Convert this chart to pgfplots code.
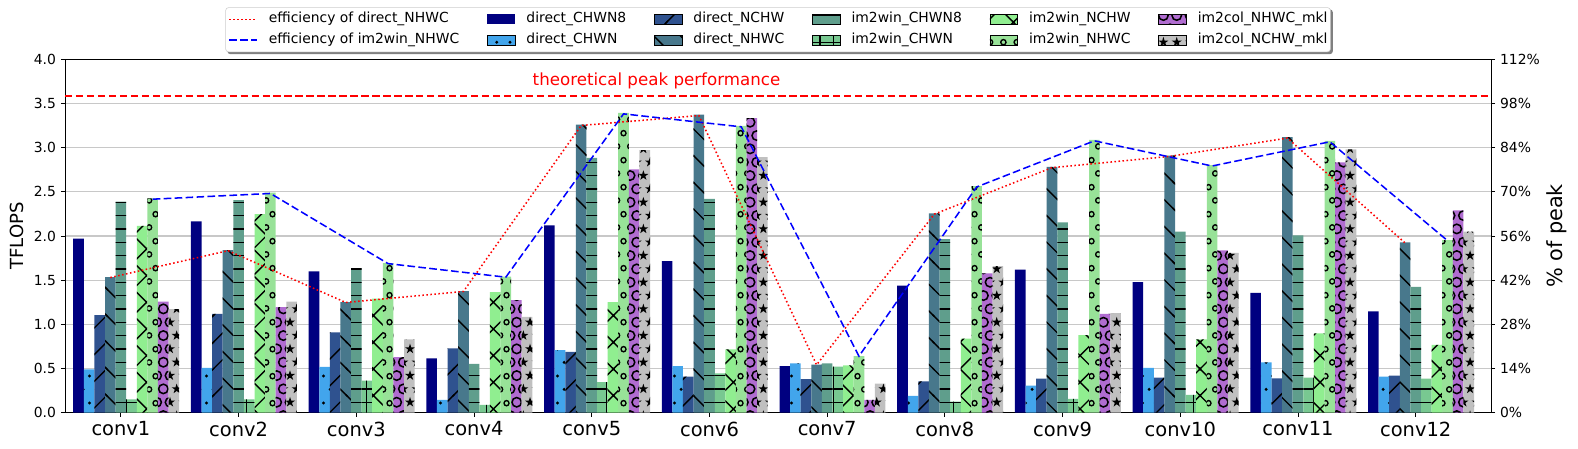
\documentclass[border=0pt]{standalone}
\usepackage{fontspec}
\setmainfont{DejaVu Sans}
\usepackage{pgfplots}
\pgfplotsset{compat=1.18}
\usepackage{pgfplotstable}
\usetikzlibrary{patterns}

\pgfdeclarelayer{bg}
\pgfsetlayers{bg,main}

\definecolor{cA}{RGB}{0,0,128}
\definecolor{cB}{RGB}{66,165,236}
\definecolor{cC}{RGB}{47,82,143}
\definecolor{cD}{RGB}{72,120,140}
\definecolor{cE}{RGB}{95,158,140}
\definecolor{cF}{RGB}{120,200,145}
\definecolor{cG}{RGB}{144,238,144}
\definecolor{cH}{RGB}{152,226,152}
\definecolor{cI}{RGB}{176,108,208}
\definecolor{cJ}{RGB}{192,192,192}
\definecolor{gridc}{RGB}{200,200,200}
\definecolor{legc}{RGB}{204,204,204}

% hatch patterns (matplotlib-like)
\pgfdeclarepatternformonly{hdots}{\pgfqpoint{0pt}{0pt}}{\pgfqpoint{9.6pt}{19.2pt}}{\pgfqpoint{9.6pt}{19.2pt}}{%
 \pgfpathcircle{\pgfqpoint{2.4pt}{4.8pt}}{1.2pt}%
 \pgfpathcircle{\pgfqpoint{7.2pt}{14.4pt}}{1.2pt}%
 \pgfusepath{fill}}
\pgfdeclarepatternformonly{hslash}{\pgfqpoint{-1pt}{-1pt}}{\pgfqpoint{20.2pt}{20.2pt}}{\pgfqpoint{19.2pt}{19.2pt}}{%
 \pgfsetlinewidth{1pt}%
 \pgfpathmoveto{\pgfqpoint{-1pt}{-1pt}}\pgfpathlineto{\pgfqpoint{20.2pt}{20.2pt}}\pgfusepath{stroke}}
\pgfdeclarepatternformonly{hbslash}{\pgfqpoint{-1pt}{-1pt}}{\pgfqpoint{20.2pt}{20.2pt}}{\pgfqpoint{19.2pt}{19.2pt}}{%
 \pgfsetlinewidth{1pt}%
 \pgfpathmoveto{\pgfqpoint{-1pt}{20.2pt}}\pgfpathlineto{\pgfqpoint{20.2pt}{-1pt}}\pgfusepath{stroke}}
\pgfdeclarepatternformonly{hhline}{\pgfqpoint{-0.5pt}{0pt}}{\pgfqpoint{10.1pt}{9.6pt}}{\pgfqpoint{9.6pt}{9.6pt}}{%
 \pgfsetlinewidth{1pt}%
 \pgfpathmoveto{\pgfqpoint{-0.5pt}{4.8pt}}\pgfpathlineto{\pgfqpoint{10.1pt}{4.8pt}}\pgfusepath{stroke}}
\pgfdeclarepatternformonly{hplus}{\pgfqpoint{-0.5pt}{-0.5pt}}{\pgfqpoint{10.1pt}{10.1pt}}{\pgfqpoint{9.6pt}{9.6pt}}{%
 \pgfsetlinewidth{1pt}%
 \pgfpathmoveto{\pgfqpoint{-0.5pt}{4.8pt}}\pgfpathlineto{\pgfqpoint{10.1pt}{4.8pt}}%
 \pgfpathmoveto{\pgfqpoint{4.8pt}{-0.5pt}}\pgfpathlineto{\pgfqpoint{4.8pt}{10.1pt}}\pgfusepath{stroke}}
\pgfdeclarepatternformonly{hcross}{\pgfqpoint{-1pt}{-1pt}}{\pgfqpoint{20.2pt}{20.2pt}}{\pgfqpoint{19.2pt}{19.2pt}}{%
 \pgfsetlinewidth{1pt}%
 \pgfpathmoveto{\pgfqpoint{-1pt}{-1pt}}\pgfpathlineto{\pgfqpoint{20.2pt}{20.2pt}}%
 \pgfpathmoveto{\pgfqpoint{-1pt}{20.2pt}}\pgfpathlineto{\pgfqpoint{20.2pt}{-1pt}}\pgfusepath{stroke}}
\pgfdeclarepatternformonly{hsmallo}{\pgfqpoint{0pt}{0pt}}{\pgfqpoint{9.6pt}{19.2pt}}{\pgfqpoint{9.6pt}{19.2pt}}{%
 \pgfsetlinewidth{1pt}%
 \pgfpathcircle{\pgfqpoint{2.4pt}{4.8pt}}{1.9pt}%
 \pgfpathcircle{\pgfqpoint{7.2pt}{14.4pt}}{1.9pt}%
 \pgfusepath{stroke}}
\pgfdeclarepatternformonly{hbigo}{\pgfqpoint{-4.5pt}{-4.5pt}}{\pgfqpoint{14.1pt}{23.7pt}}{\pgfqpoint{9.6pt}{19.2pt}}{%
 \pgfsetlinewidth{1.1pt}%
 \pgfpathcircle{\pgfqpoint{2.4pt}{4.8pt}}{3.4pt}%
 \pgfpathcircle{\pgfqpoint{7.2pt}{14.4pt}}{3.4pt}%
 \pgfusepath{stroke}}
\newcommand\starat[2]{%
 \pgfpathmoveto{\pgfpointadd{\pgfqpoint{#1}{#2}}{\pgfqpoint{0pt}{3.8pt}}}%
 \pgfpathlineto{\pgfpointadd{\pgfqpoint{#1}{#2}}{\pgfqpoint{-0.852pt}{1.173pt}}}%
 \pgfpathlineto{\pgfpointadd{\pgfqpoint{#1}{#2}}{\pgfqpoint{-3.614pt}{1.174pt}}}%
 \pgfpathlineto{\pgfpointadd{\pgfqpoint{#1}{#2}}{\pgfqpoint{-1.378pt}{-0.448pt}}}%
 \pgfpathlineto{\pgfpointadd{\pgfqpoint{#1}{#2}}{\pgfqpoint{-2.234pt}{-3.074pt}}}%
 \pgfpathlineto{\pgfpointadd{\pgfqpoint{#1}{#2}}{\pgfqpoint{0pt}{-1.45pt}}}%
 \pgfpathlineto{\pgfpointadd{\pgfqpoint{#1}{#2}}{\pgfqpoint{2.234pt}{-3.074pt}}}%
 \pgfpathlineto{\pgfpointadd{\pgfqpoint{#1}{#2}}{\pgfqpoint{1.378pt}{-0.448pt}}}%
 \pgfpathlineto{\pgfpointadd{\pgfqpoint{#1}{#2}}{\pgfqpoint{3.614pt}{1.174pt}}}%
 \pgfpathlineto{\pgfpointadd{\pgfqpoint{#1}{#2}}{\pgfqpoint{0.852pt}{1.173pt}}}%
 \pgfpathclose}
\pgfdeclarepatternformonly{hstar}{\pgfqpoint{-4.5pt}{-4.5pt}}{\pgfqpoint{14.1pt}{23.7pt}}{\pgfqpoint{9.6pt}{19.2pt}}{%
 \starat{2.4pt}{4.8pt}\starat{7.2pt}{14.4pt}\pgfusepath{fill}}

\pgfplotsset{
 /pgf/number format/assume math mode=true,
 patchleg/.style={legend image code/.code={\path[sharp corners, ##1, draw=none] (0pt,-3.6pt) rectangle (20pt,3.6pt);}},
 lineleg/.style={legend image code/.code={\draw[sharp corners, ##1] (0pt,0pt) -- (20pt,0pt);}},
}

\pgfplotstableread{
x a b c d e f g h i j
0  1.970 0.490 1.105 1.535 2.390 0.150 2.115 2.425 1.256 1.173
1  2.165 0.506 1.117 1.840 2.406 0.150 2.248 2.490 1.196 1.256
2  1.600 0.517 0.909 1.252 1.637 0.362 1.290 1.693 0.630 0.830
3  0.615 0.144 0.728 1.377 0.551 0.087 1.365 1.539 1.275 1.083
4  2.120 0.709 0.687 3.262 2.885 0.347 1.252 3.394 2.753 2.972
5  1.716 0.528 0.407 3.375 2.421 0.445 0.717 3.247 3.334 2.893
6  0.528 0.559 0.381 0.543 0.559 0.520 0.536 0.641 0.144 0.328
7  1.437 0.189 0.355 2.255 1.965 0.125 0.837 2.564 1.577 1.660
8  1.618 0.306 0.385 2.783 2.154 0.155 0.879 3.088 1.117 1.128
9  1.478 0.506 0.396 2.911 2.048 0.200 0.830 2.802 1.837 1.810
10 1.357 0.570 0.389 3.119 2.006 0.396 0.898 3.077 2.832 2.980
11 1.147 0.407 0.419 1.927 1.425 0.385 0.766 1.954 2.290 2.048
}\perf

\pgfplotstableread{
xr er xb eb
-0.09 42.83 0.27 67.66
0.91 51.34 1.27 69.48
1.91 34.93 2.27 47.24
2.91 38.42 3.27 42.94
3.91 91.02 4.27 94.70
4.91 94.17 5.27 90.60
5.91 15.15 6.27 17.89
6.91 62.92 7.27 71.54
7.91 77.65 8.27 86.16
8.91 81.22 9.27 78.18
9.91 87.03 10.27 85.85
10.91 53.77 11.27 54.52
}\eff

\pgfplotstableread{
x y
-0.475 3.584
11.64 3.584
}\peak

\begin{document}
\begin{tikzpicture}
\begin{axis}[
 name=ax,
 scale only axis, width=1026.7pt, height=254.4pt,
 xmin=-0.475, xmax=11.64, ymin=0, ymax=4,
 enlargelimits=false,
 bar width=0.09,
 xtick={0,...,11},
 xticklabels={conv1,conv2,conv3,conv4,conv5,conv6,conv7,conv8,conv9,conv10,conv11,conv12},
 ytick={0,0.5,...,4},
 yticklabel style={font=\fontsize{10}{12}\selectfont, /pgf/number format/fixed, /pgf/number format/fixed zerofill, /pgf/number format/precision=1},
 ytick pos=left, xtick pos=bottom,
 tick align=outside, major tick length=3pt,
 tick style={black, line width=0.6pt},
 axis line style={black, line width=0.7pt},
 ymajorgrids, grid style={gridc, line width=0.8pt},
 xticklabel style={font=\fontsize{14}{16}\selectfont},
 ylabel={TFLOPS},
 every axis y label/.style={at={(axis description cs:0,0.5)}, xshift=-34.9pt, rotate=90, anchor=center, font=\fontsize{13}{15}\selectfont},
]
\addplot[ybar, bar shift=-0.36, fill=cA, draw=none, forget plot] table[x=x,y=a]{\perf};
\addplot[ybar, bar shift=-0.27, fill=cB, draw=none, forget plot, postaction={pattern=hdots, pattern color=black}] table[x=x,y=b]{\perf};
\addplot[ybar, bar shift=-0.18, fill=cC, draw=none, forget plot, postaction={pattern=hslash, pattern color=black}] table[x=x,y=c]{\perf};
\addplot[ybar, bar shift=-0.09, fill=cD, draw=none, forget plot, postaction={pattern=hbslash, pattern color=black}] table[x=x,y=d]{\perf};
\addplot[ybar, bar shift=0, fill=cE, draw=none, forget plot, postaction={pattern=hhline, pattern color=black}] table[x=x,y=e]{\perf};
\addplot[ybar, bar shift=0.09, fill=cF, draw=none, forget plot, postaction={pattern=hplus, pattern color=black}] table[x=x,y=f]{\perf};
\addplot[ybar, bar shift=0.18, fill=cG, draw=none, forget plot, postaction={pattern=hcross, pattern color=black}] table[x=x,y=g]{\perf};
\addplot[ybar, bar shift=0.27, fill=cH, draw=none, forget plot, postaction={pattern=hsmallo, pattern color=black}] table[x=x,y=h]{\perf};
\addplot[ybar, bar shift=0.36, fill=cI, draw=none, forget plot, postaction={pattern=hbigo, pattern color=black}] table[x=x,y=i]{\perf};
\addplot[ybar, bar shift=0.45, fill=cJ, draw=none, forget plot, postaction={pattern=hstar, pattern color=black}] table[x=x,y=j]{\perf};
\addplot[red, line width=1.1pt, dash pattern=on 5.3pt off 2.6pt, forget plot] table[x=x,y=y]{\peak};
\node[text=red, font=\fontsize{12}{14}\selectfont] at (axis cs:4.55,3.76) {theoretical peak performance};
\end{axis}
\begin{axis}[
 scale only axis, width=1026.7pt, height=254.4pt,
 xmin=-0.475, xmax=11.64, ymin=0, ymax=112,
 enlargelimits=false,
 axis x line=none, axis y line*=right,
 ytick={0,14,...,112},
 yticklabel={\pgfmathprintnumber{\tick}\%},
 yticklabel style={font=\fontsize{10}{12}\selectfont},
 tick align=outside, major tick length=3pt,
 tick style={black, line width=0.6pt},
 axis line style={black, line width=0.7pt},
 ylabel={\% of peak},
 every axis y label/.style={at={(axis description cs:1,0.5)}, xshift=47.5pt, rotate=90, anchor=center, font=\fontsize{15}{17}\selectfont},
 legend columns=6,
 legend cell align=left,
 legend style={name=leg, at={(0.5,1)}, anchor=south, yshift=5.2pt,
   draw=legc, rounded corners=2pt, fill=white,
   font=\fontsize{10}{12}\selectfont, inner xsep=2pt, inner ysep=3.4pt, row sep=5pt,
   nodes={inner sep=0pt, text height=7.5pt, text depth=2.5pt},
   /tikz/every odd column/.style={column sep=8pt},
   /tikz/every even column/.style={column sep=20pt}},
]
\addplot[red, line width=1.1pt, dash pattern=on 1.1pt off 1.8pt, forget plot] table[x=xr,y=er]{\eff};
\addplot[blue, line width=1.1pt, dash pattern=on 5.5pt off 2.4pt, forget plot] table[x=xb,y=eb]{\eff};
\addlegendimage{lineleg, red, line width=1.1pt, dash pattern=on 1.1pt off 1.8pt}
\addlegendentry{efficiency of direct\_NHWC}
\addlegendimage{patchleg, fill=cA}
\addlegendentry{direct\_CHWN8}
\addlegendimage{patchleg, fill=cC, postaction={pattern=hslash, pattern color=black}}
\addlegendentry{direct\_NCHW}
\addlegendimage{patchleg, fill=cE, postaction={pattern=hhline, pattern color=black}}
\addlegendentry{im2win\_CHWN8}
\addlegendimage{patchleg, fill=cG, postaction={pattern=hcross, pattern color=black}}
\addlegendentry{im2win\_NCHW}
\addlegendimage{patchleg, fill=cI, postaction={pattern=hbigo, pattern color=black}}
\addlegendentry{im2col\_NHWC\_mkl}
\addlegendimage{lineleg, blue, line width=1.1pt, dash pattern=on 5.5pt off 2.4pt}
\addlegendentry{efficiency of im2win\_NHWC}
\addlegendimage{patchleg, fill=cB, postaction={pattern=hdots, pattern color=black}}
\addlegendentry{direct\_CHWN}
\addlegendimage{patchleg, fill=cD, postaction={pattern=hbslash, pattern color=black}}
\addlegendentry{direct\_NHWC}
\addlegendimage{patchleg, fill=cF, postaction={pattern=hplus, pattern color=black}}
\addlegendentry{im2win\_CHWN}
\addlegendimage{patchleg, fill=cH, postaction={pattern=hsmallo, pattern color=black}}
\addlegendentry{im2win\_NHWC}
\addlegendimage{patchleg, fill=cJ, postaction={pattern=hstar, pattern color=black}}
\addlegendentry{im2col\_NCHW\_mkl}
\end{axis}
\begin{pgfonlayer}{bg}
\fill[black!50, rounded corners=2pt] ([shift={(1.5pt,-1.5pt)}]leg.south west) rectangle ([shift={(1.5pt,-1.5pt)}]leg.north east);
\end{pgfonlayer}
\pgfresetboundingbox
\path ([shift={(-46.8pt,-26.1pt)}]ax.south west) rectangle ([shift={(62.6pt,42.7pt)}]ax.north east);
\end{tikzpicture}
\end{document}
